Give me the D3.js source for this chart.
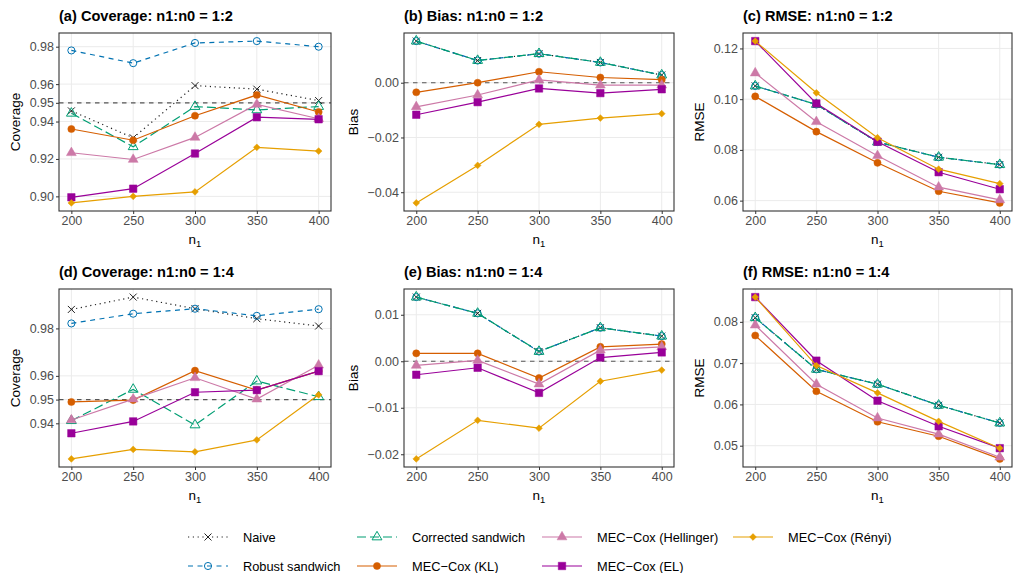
<!DOCTYPE html>
<html>
<head>
<meta charset="utf-8">
<script src="https://cdn.jsdelivr.net/npm/d3@7"></script>
<style>
  body { margin: 0; background: #fff; }
  svg { font-family: "Liberation Sans", Arial, sans-serif; }
  .tick text { fill: #4d4d4d; font-size: 12.5px; }
  .tick line { stroke: #333; }
  .domain { display: none; }
</style>
</head>
<body>
<div id="chart"></div>
<script>
// sample sizes on the x axis
const n1 = [200, 250, 300, 350, 400];
const methods = ["Naive", "Robust sandwich", "Corrected sandwich", "MEC\u2212Cox (KL)",
                 "MEC\u2212Cox (Hellinger)", "MEC\u2212Cox (EL)", "MEC\u2212Cox (R\u00e9nyi)"];

// coverage, n1:n0 = 1:2 (one row per method)
const coverage12 = [
  [0.9457, 0.9313, 0.9592, 0.9573, 0.9512],
  [0.9780, 0.9712, 0.9820, 0.9830, 0.9800],
  [0.9444, 0.9265, 0.9480, 0.9462, 0.9480],
  [0.9360, 0.9300, 0.9431, 0.9542, 0.9451],
  [0.9233, 0.9197, 0.9315, 0.9492, 0.9415],
  [0.8995, 0.9041, 0.9229, 0.9423, 0.9412],
  [0.8965, 0.9000, 0.9024, 0.9262, 0.9242]
];
// naive / robust / corrected share the same estimate
const biasCox12   = [0.0152, 0.0081, 0.0106, 0.0074, 0.0028];
const biasKL12    = [-0.0035, 0.0000, 0.0040, 0.0019, 0.0011];
const biasHell12  = [-0.0088, -0.0045, 0.0010, -0.0009, -0.0009];
const biasEL12    = [-0.0117, -0.0071, -0.0021, -0.0038, -0.0024];
const biasRenyi12 = [-0.0439, -0.0302, -0.0152, -0.0129, -0.0113];

const rmseCox12   = [0.1052, 0.0979, 0.0831, 0.0771, 0.0742];
const rmseKL12    = [0.1011, 0.0872, 0.0749, 0.0637, 0.0591];
const rmseHell12  = [0.1103, 0.0911, 0.0777, 0.0653, 0.0603];
const rmseEL12    = [0.1229, 0.0983, 0.0832, 0.0712, 0.0645];
const rmseRenyi12 = [0.1229, 0.1025, 0.0848, 0.0724, 0.0667];

// coverage, n1:n0 = 1:4
const coverage14 = [
  [0.9880, 0.9932, 0.9883, 0.9841, 0.9810],
  [0.9821, 0.9862, 0.9883, 0.9853, 0.9881],
  [0.9411, 0.9543, 0.9393, 0.9578, 0.9512],
  [0.9490, 0.9498, 0.9622, 0.9540, 0.9620],
  [0.9414, 0.9502, 0.9592, 0.9502, 0.9645],
  [0.9358, 0.9408, 0.9531, 0.9540, 0.9620],
  [0.9250, 0.9290, 0.9280, 0.9330, 0.9520]
];
const biasCox14   = [0.0138, 0.0103, 0.0021, 0.0072, 0.0054];
const biasKL14    = [0.0017, 0.0017, -0.0036, 0.0031, 0.0037];
const biasHell14  = [-0.0009, 0.0002, -0.0049, 0.0024, 0.0031];
const biasEL14    = [-0.0029, -0.0014, -0.0068, 0.0008, 0.0019];
const biasRenyi14 = [-0.0210, -0.0127, -0.0144, -0.0043, -0.0019];

const rmseCox14   = [0.0810, 0.0685, 0.0649, 0.0598, 0.0555];
const rmseKL14    = [0.0767, 0.0632, 0.0558, 0.0523, 0.0468];
const rmseHell14  = [0.0792, 0.0649, 0.0567, 0.0528, 0.0472];
const rmseEL14    = [0.0860, 0.0706, 0.0609, 0.0547, 0.0494];
const rmseRenyi14 = [0.0860, 0.0694, 0.0628, 0.0559, 0.0494];

const coverageTicks = [0.90, 0.92, 0.94, 0.95, 0.96, 0.98];
const biasTicks12 = [-0.04, -0.02, 0];
const rmseTicks12 = [0.06, 0.08, 0.10, 0.12];
const biasTicks14 = [-0.02, -0.01, 0, 0.01];
const rmseTicks14 = [0.05, 0.06, 0.07, 0.08];

// styling per method
const colors = ["#222222", "#0072B2", "#009E73", "#D55E00", "#CC79A7", "#990099", "#E69F00"];
const dashes = ["1.2,3.6", "5,4.5", "9,4", null, null, null, null];
const shapes = ["x", "ocircle", "otriangle", "circle", "triangle", "square", "diamond"];

const width = 1015, height = 573;
const svg = d3.select("#chart").append("svg")
  .attr("width", width).attr("height", height);

const cols = [[59, 331], [404, 674], [743, 1012]];
const rows = [[33, 211], [289, 467]];

const panels = [
  { title: "(a) Coverage: n1:n0 = 1:2", ylab: "Coverage", series: coverage12, ticks: coverageTicks, ref: 0.95, col: 0, row: 0, ytitleX: 15 },
  { title: "(b) Bias: n1:n0 = 1:2", ylab: "Bias", series: [biasCox12, biasCox12, biasCox12, biasKL12, biasHell12, biasEL12, biasRenyi12], ticks: biasTicks12, ref: 0, col: 1, row: 0, ytitleX: 353 },
  { title: "(c) RMSE: n1:n0 = 1:2", ylab: "RMSE", series: [rmseCox12, rmseCox12, rmseCox12, rmseKL12, rmseHell12, rmseEL12, rmseRenyi12], ticks: rmseTicks12, ref: null, col: 2, row: 0, ytitleX: 699 },
  { title: "(d) Coverage: n1:n0 = 1:4", ylab: "Coverage", series: coverage14, ticks: coverageTicks, ref: 0.95, col: 0, row: 1, ytitleX: 15 },
  { title: "(e) Bias: n1:n0 = 1:4", ylab: "Bias", series: [biasCox14, biasCox14, biasCox14, biasKL14, biasHell14, biasEL14, biasRenyi14], ticks: biasTicks14, ref: 0, col: 1, row: 1, ytitleX: 353 },
  { title: "(f) RMSE: n1:n0 = 1:4", ylab: "RMSE", series: [rmseCox14, rmseCox14, rmseCox14, rmseKL14, rmseHell14, rmseEL14, rmseRenyi14], ticks: rmseTicks14, ref: null, col: 2, row: 1, ytitleX: 699 }
];

function symbolPath(shape) {
  if (shape === "x") return "M-3.5,-3.5L3.5,3.5M-3.5,3.5L3.5,-3.5";
  if (shape === "ocircle" || shape === "circle") return d3.symbol(d3.symbolCircle, 40)();
  if (shape === "otriangle" || shape === "triangle") return d3.symbol(d3.symbolTriangle, 42)();
  if (shape === "square") return d3.symbol(d3.symbolSquare, 56)();
  return "M0,-3.4L3.4,0L0,3.4L-3.4,0Z";
}

function drawSymbol(g, i, x, y) {
  const s = shapes[i];
  const open = (s === "x" || s === "ocircle" || s === "otriangle");
  g.append("path")
    .attr("d", symbolPath(s))
    .attr("transform", `translate(${x},${y})`)
    .attr("fill", open ? "none" : colors[i])
    .attr("stroke", colors[i])
    .attr("stroke-width", open ? 1 : 0.5);
}

const fmt = d => d3.format(".2f")(d).replace("-", "\u2212");

panels.forEach(p => {
  const [x0, x1] = cols[p.col];
  const [y0, y1] = rows[p.row];
  const g = svg.append("g");

  const all = p.series.flat().concat(p.ref !== null ? [p.ref] : []);
  const [mn, mx] = d3.extent(all);
  const pad = (mx - mn) * 0.05;
  const y = d3.scaleLinear().domain([mn - pad, mx + pad]).range([y1, y0]);
  const x = d3.scaleLinear().domain([200 - 10, 400 + 10]).range([x0, x1]);
  const ticks = p.ticks.filter(t => t >= mn - pad && t <= mx + pad);

  // grid
  g.selectAll(".gy").data(ticks).enter().append("line")
    .attr("x1", x0).attr("x2", x1)
    .attr("y1", d => y(d)).attr("y2", d => y(d))
    .attr("stroke", "#ebebeb").attr("stroke-width", 1);
  g.selectAll(".gx").data(n1).enter().append("line")
    .attr("y1", y0).attr("y2", y1)
    .attr("x1", d => x(d)).attr("x2", d => x(d))
    .attr("stroke", "#ebebeb").attr("stroke-width", 1);

  if (p.ref !== null) {
    g.append("line")
      .attr("x1", x0).attr("x2", x1)
      .attr("y1", y(p.ref)).attr("y2", y(p.ref))
      .attr("stroke", "#555").attr("stroke-width", 1.1)
      .attr("stroke-dasharray", "4.5,4.5");
  }

  const line = d3.line().x((d, i) => x(n1[i])).y(d => y(d));
  p.series.forEach((vals, i) => {
    g.append("path")
      .attr("d", line(vals))
      .attr("fill", "none")
      .attr("stroke", colors[i])
      .attr("stroke-width", 1.2)
      .attr("stroke-dasharray", dashes[i]);
    vals.forEach((v, j) => drawSymbol(g, i, x(n1[j]), y(v)));
  });

  // border
  g.append("rect")
    .attr("x", x0).attr("y", y0)
    .attr("width", x1 - x0).attr("height", y1 - y0)
    .attr("fill", "none").attr("stroke", "#333").attr("stroke-width", 1.1);

  g.append("g").attr("transform", `translate(${x0},0)`)
    .call(d3.axisLeft(y).tickValues(ticks).tickFormat(fmt).tickSize(3).tickPadding(2));
  g.append("g").attr("transform", `translate(0,${y1})`)
    .call(d3.axisBottom(x).tickValues(n1).tickFormat(d3.format("d")).tickSize(3).tickPadding(2));

  g.append("text")
    .attr("x", x0).attr("y", y0 - 12)
    .attr("font-size", 14.6).attr("font-weight", "bold")
    .text(p.title);

  g.append("text")
    .attr("transform", `translate(${p.ytitleX},${(y0 + y1) / 2}) rotate(-90)`)
    .attr("text-anchor", "middle").attr("dominant-baseline", "central")
    .attr("font-size", 13.5)
    .text(p.ylab);

  const xl = g.append("text")
    .attr("x", (x0 + x1) / 2).attr("y", y1 + 33)
    .attr("text-anchor", "middle").attr("font-size", 13.5);
  xl.append("tspan").text("n");
  xl.append("tspan").attr("font-size", 9.5).attr("dy", 3).text("1");
});

// legend
const legendPos = [[188, 537], [188, 566], [357, 537], [357, 566], [542, 537], [542, 566], [733, 537]];
const legend = svg.append("g");
methods.forEach((m, i) => {
  const [lx, ly] = legendPos[i];
  legend.append("line")
    .attr("x1", lx).attr("x2", lx + 40)
    .attr("y1", ly).attr("y2", ly)
    .attr("stroke", colors[i]).attr("stroke-width", 1.2)
    .attr("stroke-dasharray", dashes[i]);
  drawSymbol(legend, i, lx + 20, ly);
  legend.append("text")
    .attr("x", lx + 55).attr("y", ly)
    .attr("dominant-baseline", "central")
    .attr("font-size", 12.8)
    .text(m);
});
</script>
</body>
</html>
